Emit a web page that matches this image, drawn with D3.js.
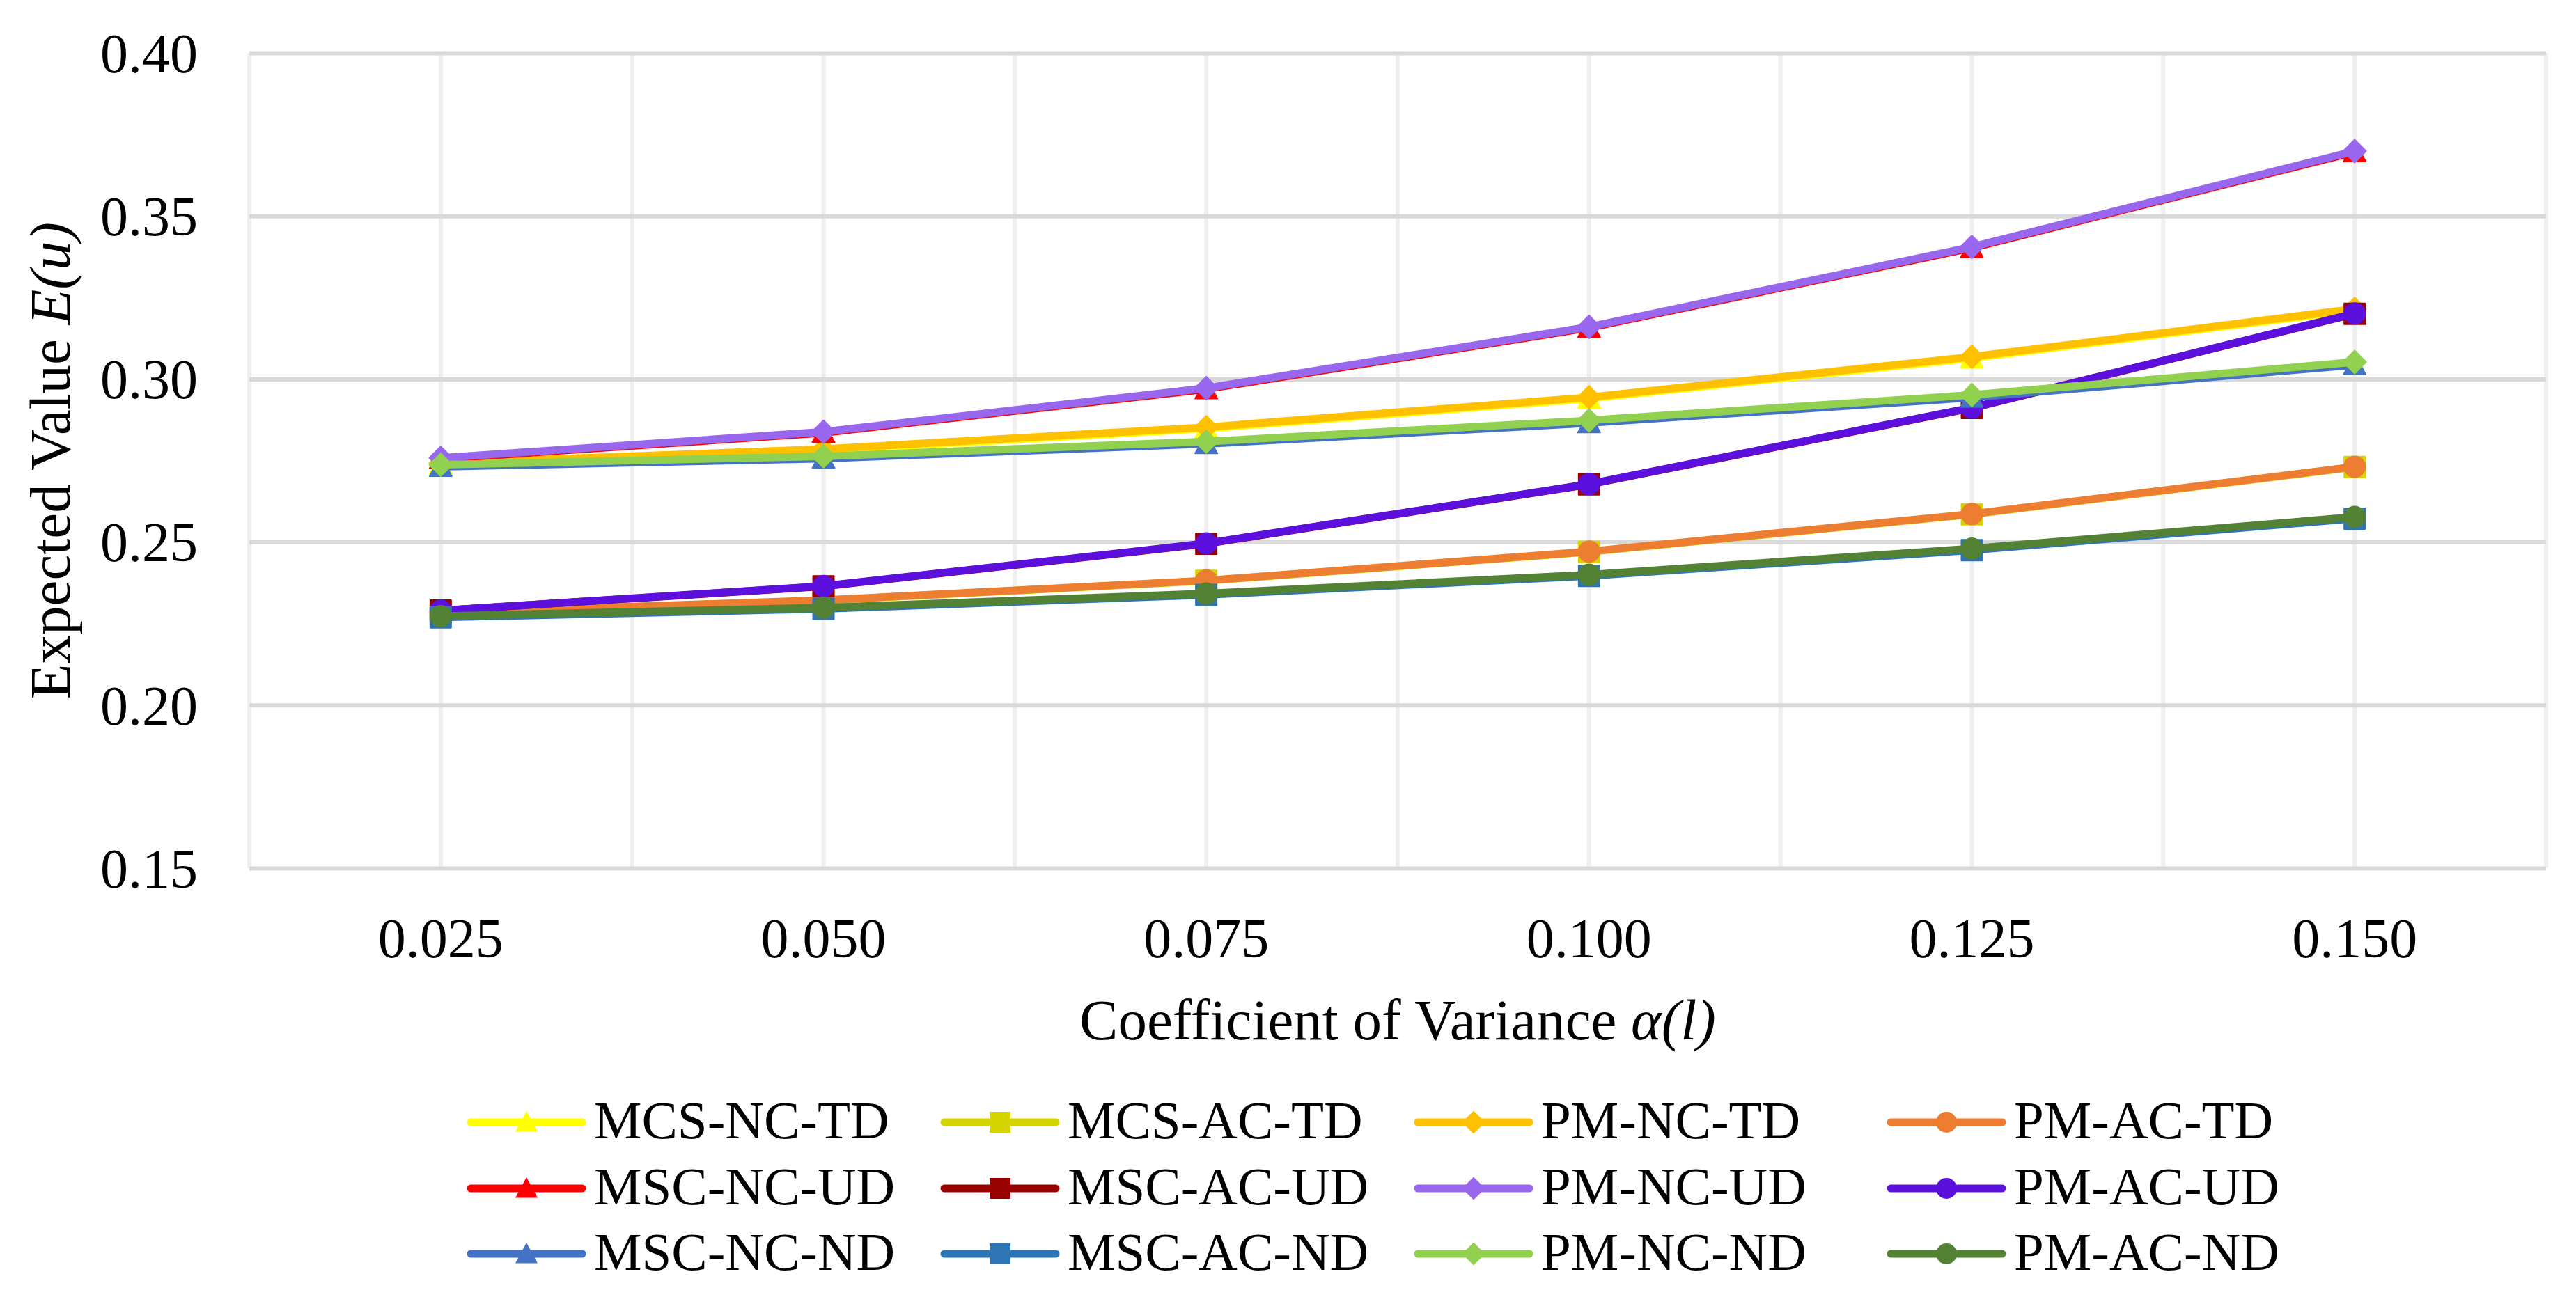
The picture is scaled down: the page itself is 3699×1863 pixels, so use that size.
<!DOCTYPE html>
<html>
<head>
<meta charset="utf-8">
<script src="https://cdn.jsdelivr.net/npm/d3@7"></script>
<style>
  body { margin: 0; background: #fff; }
  text { font-family: "Liberation Serif", "Times New Roman", serif; fill: #000; }
</style>
</head>
<body>
<div id="chart"></div>
<script>
var categories = ["0.025", "0.050", "0.075", "0.100", "0.125", "0.150"];
var yTicks = [0.15, 0.20, 0.25, 0.30, 0.35, 0.40];

var seriesNames = [
    "MCS-NC-TD", "MCS-AC-TD", "PM-NC-TD", "PM-AC-TD",
    "MSC-NC-UD", "MSC-AC-UD", "PM-NC-UD", "PM-AC-UD",
    "MSC-NC-ND", "MSC-AC-ND", "PM-NC-ND", "PM-AC-ND"
];

var mcsNcTd = [0.2738, 0.2781, 0.2848, 0.2940, 0.3064, 0.3211];
var mcsAcTd = [0.2281, 0.2321, 0.2381, 0.2470, 0.2585, 0.2730];
var pmNcTd  = [0.2742, 0.2785, 0.2852, 0.2944, 0.3068, 0.3215];
var pmAcTd  = [0.2282, 0.2322, 0.2382, 0.2471, 0.2586, 0.2731];
var mscNcUd = [0.2755, 0.2835, 0.2969, 0.3157, 0.3402, 0.3696];
var mscAcUd = [0.2290, 0.2364, 0.2495, 0.2677, 0.2911, 0.3200];
var pmNcUd  = [0.2758, 0.2838, 0.2972, 0.3160, 0.3405, 0.3699];
var pmAcUd  = [0.2290, 0.2365, 0.2496, 0.2678, 0.2912, 0.3201];
var mscNcNd = [0.2731, 0.2756, 0.2801, 0.2865, 0.2943, 0.3043];
var mscAcNd = [0.2269, 0.2295, 0.2338, 0.2396, 0.2475, 0.2572];
var pmNcNd  = [0.2737, 0.2763, 0.2808, 0.2873, 0.2951, 0.3052];
var pmAcNd  = [0.2273, 0.2299, 0.2342, 0.2400, 0.2480, 0.2577];

var seriesValues = [mcsNcTd, mcsAcTd, pmNcTd, pmAcTd, mscNcUd, mscAcUd, pmNcUd, pmAcUd, mscNcNd, mscAcNd, pmNcNd, pmAcNd];
var seriesColors = ["#FFFF00", "#D4D400", "#FFC000", "#ED7D31",
                    "#FF0000", "#990000", "#9966EE", "#5C10DE",
                    "#4472C4", "#2E75B6", "#92D050", "#548235"];
var seriesMarkers = ["triangle", "square", "diamond", "circle",
                     "triangle", "square", "diamond", "circle",
                     "triangle", "square", "diamond", "circle"];

var W = 3699, H = 1863;
var margin = { left: 358, right: 43, top: 76, bottom: 616 };
var plotW = W - margin.left - margin.right;
var plotH = H - margin.top - margin.bottom;

var svg = d3.select("#chart").append("svg")
    .attr("width", W)
    .attr("height", H);

var g = svg.append("g").attr("transform", "translate(" + margin.left + "," + margin.top + ")");

var x = d3.scaleBand().domain(categories).range([0, plotW]);
var y = d3.scaleLinear().domain([0.15, 0.40]).range([plotH, 0]);
var cx = function (c) { return x(c) + x.bandwidth() / 2; };

// excel-like marker shapes, centred on their bounding box
var markerPath = function (type, s) {
    var h = s / 2;
    if (type == "triangle") return "M0," + (-h) + "L" + h + "," + (h * 0.85) + "L" + (-h) + "," + (h * 0.85) + "Z";
    if (type == "square") return "M" + (-h) + "," + (-h) + "h" + s + "v" + s + "h" + (-s) + "Z";
    if (type == "diamond") return "M0," + (-h) + "L" + h + ",0L0," + h + "L" + (-h) + ",0Z";
    return "M" + (-h) + ",0a" + h + "," + h + " 0 1,0 " + s + ",0a" + h + "," + h + " 0 1,0 " + (-s) + ",0Z";
};
var markerSize = { triangle: 32, square: 30, diamond: 33, circle: 30 };

//vertical gridlines at category centers and edges
var vLines = [];
categories.forEach(function (c) { vLines.push(x(c)); vLines.push(cx(c)); });
vLines.push(plotW);
g.append("g").selectAll("line").data(vLines).enter().append("line")
    .attr("x1", function (d) { return d; })
    .attr("x2", function (d) { return d; })
    .attr("y1", 0).attr("y2", plotH)
    .attr("stroke", "#EFEFEF").attr("stroke-width", 6);

//horizontal gridlines + y labels
var yAxis = g.append("g").call(d3.axisLeft(y).tickValues(yTicks).tickFormat(d3.format(".2f")).tickSize(-plotW).tickPadding(74));
yAxis.select(".domain").remove();
yAxis.selectAll(".tick line").attr("stroke", "#D9D9D9").attr("stroke-width", 6);
yAxis.selectAll(".tick text").attr("font-size", 80).attr("dy", "0.34em");

//x labels
var xAxis = g.append("g").attr("transform", "translate(0," + plotH + ")")
    .call(d3.axisBottom(x).tickSize(0).tickPadding(71));
xAxis.select(".domain").remove();
xAxis.selectAll(".tick text").attr("font-size", 80);

var line = d3.line()
    .x(function (d, i) { return cx(categories[i]); })
    .y(function (d) { return y(d); });

//series, drawn in legend order
for (var s = 0; s < seriesNames.length; s++) {
    var sg = g.append("g").attr("class", "series");
    sg.append("path")
        .datum(seriesValues[s])
        .attr("d", line)
        .attr("fill", "none")
        .attr("stroke", seriesColors[s])
        .attr("stroke-width", 11)
        .attr("stroke-linejoin", "round")
        .attr("stroke-linecap", "round");
    var m = seriesMarkers[s];
    sg.selectAll("path.mk").data(seriesValues[s]).enter().append("path")
        .attr("class", "mk")
        .attr("transform", function (d, i) { return "translate(" + cx(categories[i]) + "," + y(d) + ")"; })
        .attr("d", markerPath(m, markerSize[m]))
        .attr("fill", seriesColors[s])
        .attr("stroke", seriesColors[s])
        .attr("stroke-width", 2)
        .attr("stroke-linejoin", "round");
}

//axis titles
svg.append("text")
    .attr("x", margin.left + plotW / 2)
    .attr("y", 1493)
    .attr("text-anchor", "middle")
    .attr("font-size", 83)
    .text("Coefficient of Variance ")
    .append("tspan").attr("font-style", "italic").text("α(l)");

var yt = svg.append("text")
    .attr("transform", "translate(100," + (margin.top + plotH / 2) + ") rotate(-90)")
    .attr("text-anchor", "middle")
    .attr("font-size", 83)
    .text("Expected Value ");
yt.append("tspan").attr("font-style", "italic").text("E(u)");

//legend
var legendX = [670, 1350, 2030, 2709];
var legendY = [1612, 1707, 1801];
var legend = svg.append("g");
for (var k = 0; k < seriesNames.length; k++) {
    var lx = legendX[k % 4], ly = legendY[Math.floor(k / 4)];
    var item = legend.append("g").attr("transform", "translate(" + lx + "," + ly + ")");
    item.append("line").attr("x1", 6).attr("x2", 166).attr("y1", 0).attr("y2", 0)
        .attr("stroke", seriesColors[k]).attr("stroke-width", 11).attr("stroke-linecap", "round");
    item.append("path").attr("transform", "translate(86,0)")
        .attr("d", markerPath(seriesMarkers[k], markerSize[seriesMarkers[k]]))
        .attr("fill", seriesColors[k]);
    item.append("text").attr("x", 183).attr("y", 23).attr("font-size", 77).text(seriesNames[k]);
}
</script>
</body>
</html>
